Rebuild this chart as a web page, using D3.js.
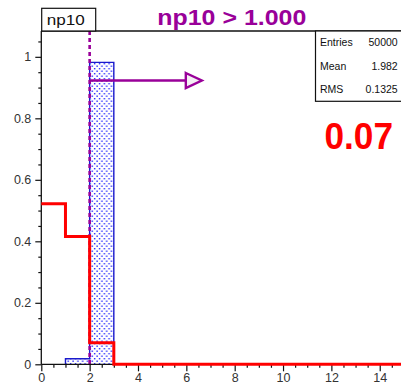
<!DOCTYPE html>
<html>
<head>
<meta charset="utf-8">
<script src="https://cdn.jsdelivr.net/npm/d3@7"></script>
<style>
  html, body { margin: 0; padding: 0; background: #fff; }
  svg { display: block; font-family: "Liberation Sans", Arial, Helvetica, sans-serif; }
</style>
</head>
<body>
<svg id="chart" width="401" height="386"></svg>
<script>
// Histogram bins (unit width) over np10
const binEdges = [0, 1, 2, 3, 4, 5, 6, 7, 8, 9, 10, 11, 12, 13, 14, 15];
const signalValues = [0, 0.018, 0.982, 0, 0, 0, 0, 0, 0, 0, 0, 0, 0, 0, 0];
const backgroundValues = [0.522, 0.416, 0.070, 0, 0, 0, 0, 0, 0, 0, 0, 0, 0, 0, 0];
const xTicks = [0, 2, 4, 6, 8, 10, 12, 14];
const yTicks = [0, 0.2, 0.4, 0.6, 0.8, 1];
const yTickLabels = ["0", "0.2", "0.4", "0.6", "0.8", "1"];
const cutLineX = 2;
const arrowY = 0.923;
const arrowEndX = 6.64;
const titleText = "np10 > 1.000";
const histName = "np10";
const statsRows = [["Entries", "50000"], ["Mean", "1.982"], ["RMS", "0.1325"]];
const efficiencyText = "0.07";

const svg = d3.select("#chart");
const x = d3.scaleLinear().domain([0, 15]).range([41.3, 403.9]);
const y = d3.scaleLinear().domain([0, 1.084]).range([364.3, 31]);

const purple = "#990099";

// dotted fill pattern
const defs = svg.append("defs");
const pat = defs.append("pattern").attr("id", "dots").attr("patternUnits", "userSpaceOnUse")
  .attr("width", 4.8).attr("height", 5);
pat.append("rect").attr("width", 4.8).attr("height", 5).attr("fill", "#fff");
pat.append("rect").attr("x", 0.4).attr("y", 0.5).attr("width", 1.4).attr("height", 1.4).attr("fill", "#2a2aff");
pat.append("rect").attr("x", 2.8).attr("y", 3).attr("width", 1.4).attr("height", 1.4).attr("fill", "#2a2aff");

// step path for a histogram
function stepPoints(values, closeToZero) {
  const pts = [];
  let first = values.findIndex(v => v !== 0);
  let last = values.length - 1;
  if (closeToZero) {
    while (last > 0 && values[last] === 0) last--;
    pts.push([binEdges[first], 0]);
  }
  for (let i = first; i <= last; i++) {
    pts.push([binEdges[i], values[i]]);
    pts.push([binEdges[i + 1], values[i]]);
  }
  if (closeToZero) pts.push([binEdges[last + 1], 0]);
  return pts;
}
const line = d3.line().x(d => x(d[0])).y(d => y(d[1]));

// signal histogram (filled)
const sigPts = stepPoints(signalValues, true);
svg.append("path").attr("d", line(sigPts) + "Z")
  .attr("fill", "url(#dots)").attr("stroke", "none");
svg.append("path").attr("d", line(sigPts))
  .attr("fill", "none").attr("stroke", "#1a1acc").attr("stroke-width", 1.4);

// cut line and arrow
svg.append("line")
  .attr("x1", x(cutLineX)).attr("x2", x(cutLineX))
  .attr("y1", y(1.084)).attr("y2", y(0))
  .attr("stroke", purple).attr("stroke-width", 2.6).attr("stroke-dasharray", "4,3");
const ay = y(arrowY);
const tipX = x(arrowEndX);
svg.append("line")
  .attr("x1", x(cutLineX)).attr("x2", tipX - 16)
  .attr("y1", ay).attr("y2", ay)
  .attr("stroke", purple).attr("stroke-width", 2.6);
svg.append("path")
  .attr("d", `M${tipX - 16},${ay - 7.5}L${tipX},${ay}L${tipX - 16},${ay + 7.5}Z`)
  .attr("fill", "#f4eef4").attr("stroke", purple).attr("stroke-width", 2.4)
  .attr("stroke-linejoin", "miter");

// axes
const xAxis = svg.append("g").attr("transform", `translate(0,${y(0)})`);
xAxis.call(d3.axisBottom(x).tickValues(d3.range(0, 15.01, 0.5)).tickSize(3.5).tickFormat(""));
xAxis.call(g => g.selectAll(".tick line").filter(d => xTicks.includes(d)).attr("y2", 7));
xAxis.select(".domain").remove();
xAxis.selectAll(".tick line").attr("stroke", "#111").attr("stroke-width", 1.2);
xAxis.selectAll(".tick").filter(d => xTicks.includes(d)).append("text")
  .attr("y", 18).attr("text-anchor", "middle").attr("fill", "#333")
  .style("font-size", "12.5px").text(d => d);

const yAxis = svg.append("g").attr("transform", `translate(${x(0)},0)`);
yAxis.call(d3.axisLeft(y).tickValues(d3.range(0, 1.06, 0.05)).tickSize(3).tickFormat(""));
yAxis.select(".domain").remove();
yAxis.selectAll(".tick line").attr("stroke", "#111").attr("stroke-width", 1.2);
yAxis.selectAll(".tick").filter(d => yTicks.some(t => Math.abs(t - d) < 1e-6)).select("line").attr("x2", -6);
yAxis.selectAll(".ylab").data(yTicks).join("text")
  .attr("class", "ylab")
  .attr("x", -10).attr("y", d => y(d) + 4.5).attr("text-anchor", "end").attr("fill", "#333")
  .style("font-size", "12.5px").text((d, i) => yTickLabels[i]);

// frame
svg.append("line").attr("x1", x(0)).attr("x2", x(0)).attr("y1", y(1.084)).attr("y2", y(0))
  .attr("stroke", "#111").attr("stroke-width", 1.3);
svg.append("line").attr("x1", x(0)).attr("x2", 401).attr("y1", y(1.084)).attr("y2", y(1.084))
  .attr("stroke", "#111").attr("stroke-width", 1.3);
svg.append("line").attr("x1", x(0)).attr("x2", 401).attr("y1", y(0)).attr("y2", y(0))
  .attr("stroke", "#111").attr("stroke-width", 1.3);

// background histogram (red line)
svg.append("path").attr("d", line(stepPoints(backgroundValues, false)))
  .attr("fill", "none").attr("stroke", "#ff0000").attr("stroke-width", 3);

// title
svg.append("text").attr("x", 157.3).attr("y", 25).attr("fill", purple)
  .attr("textLength", 149).attr("lengthAdjust", "spacingAndGlyphs")
  .style("font-size", "22px").style("font-weight", "bold").text(titleText);

// histogram name box
svg.append("rect").attr("x", 41.7).attr("y", 8.3).attr("width", 54).attr("height", 22.7)
  .attr("fill", "#fff").attr("stroke", "#111").attr("stroke-width", 1.2);
svg.append("text").attr("x", 46.7).attr("y", 24.5).attr("fill", "#111")
  .attr("textLength", 38).attr("lengthAdjust", "spacingAndGlyphs")
  .style("font-size", "15px").text(histName);

// statistics box
svg.append("rect").attr("x", 315.5).attr("y", 31).attr("width", 90).attr("height", 70.3)
  .attr("fill", "#fff").attr("stroke", "#111").attr("stroke-width", 1.2);
const rowY = [46, 69.5, 93];
statsRows.forEach((r, i) => {
  svg.append("text").attr("x", 320).attr("y", rowY[i]).attr("fill", "#111")
    .style("font-size", "10.5px").text(r[0]);
  svg.append("text").attr("x", 397.7).attr("y", rowY[i]).attr("fill", "#111")
    .attr("text-anchor", "end").style("font-size", "10.5px").text(r[1]);
});

// efficiency label
svg.append("text").attr("x", 324.5).attr("y", 149.3).attr("fill", "#ff0000")
  .attr("textLength", 68.5).attr("lengthAdjust", "spacingAndGlyphs")
  .style("font-size", "37px").style("font-weight", "bold").text(efficiencyText);
</script>
</body>
</html>
